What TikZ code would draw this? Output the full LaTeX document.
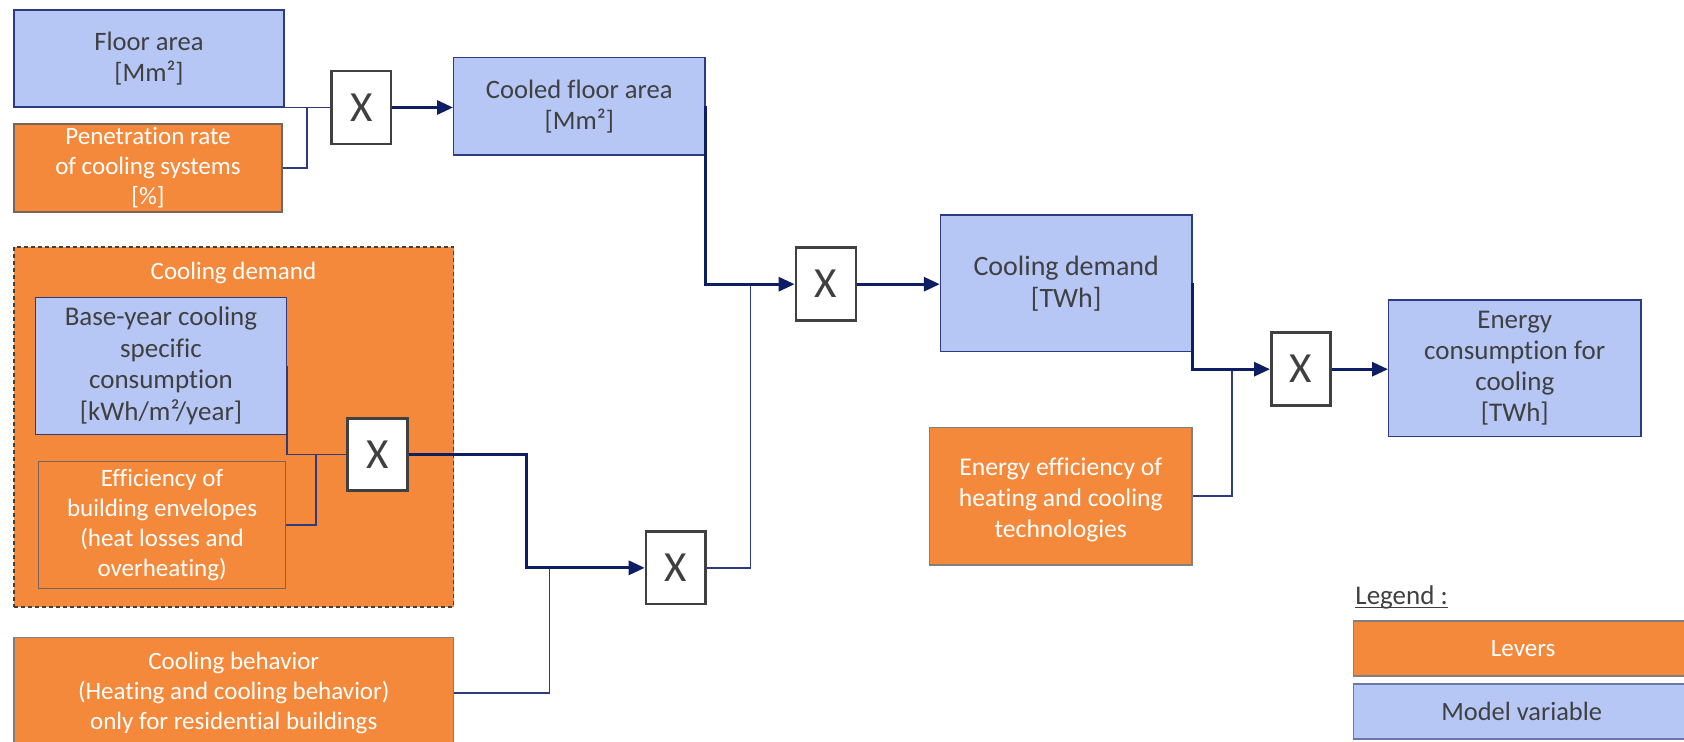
\documentclass[tikz,border=0pt]{standalone}
\usepackage{fontspec}
\setmainfont{Carlito}[Ligatures=NoCommon]
\usetikzlibrary{arrows.meta,fit,calc}
\definecolor{bluefill}{RGB}{182,198,245}
\definecolor{orangefill}{RGB}{245,137,59}
\definecolor{navy}{RGB}{14,30,100}
\definecolor{thinnavy}{RGB}{45,60,125}
\definecolor{txtgray}{RGB}{64,64,64}
\definecolor{blueborder}{RGB}{45,60,130}
\definecolor{orangeborder}{RGB}{120,100,90}
\begin{document}
\begin{tikzpicture}[x=0.5pt,y=-0.5pt,
  model/.style={draw=blueborder, line width=0.6pt, fill=bluefill, inner sep=0pt},
  lever/.style={draw=orangeborder, line width=0.6pt, fill=orangefill, inner sep=0pt},
  mult/.style={draw=txtgray, line width=1.3pt, fill=white, inner sep=0pt},
  mtext/.style={text=txtgray, align=center, inner sep=0pt},
  ltext/.style={text=white, align=center, inner sep=0pt},
  xtext/.style={text=txtgray, inner sep=0pt, font=\fontsize{21.5}{24}\selectfont},
  thinline/.style={draw=thinnavy, line width=0.7pt},
  thickarrow/.style={draw=navy, line width=1.5pt, -{Triangle[length=8pt,width=7pt]}},
  fa/.style={font=\fontsize{13.3}{15.5}\selectfont},
  fb/.style={font=\fontsize{12.5}{15}\selectfont},
  fc/.style={font=\fontsize{14}{16}\selectfont}]
\useasboundingbox (0,0) rectangle (1684,742);
\fill[white] (0,0) rectangle (1684,742);
% group
\node[draw=txtgray, dashed, dash pattern=on 2pt off 1.5pt, line width=0.8pt, fill=orangefill, inner sep=0pt, fit={(14,247) (453.6,606.7)}] (grp) {};
\node[ltext, fb] (grplabel) at (233.5,273) {Cooling demand};
% boxes
\node[model, fit={(14,10) (284,107)}] (floor) {};
\node[mtext, fa] (floort) at (floor.center) {Floor area\\{[Mm²]}};
\node[lever, fit={(14,124) (282,212)}] (pen) {};
\node[ltext, fb] (pent) at (pen.center) {Penetration rate\\of cooling systems\\{[\%]}};
\node[model, fit={(453.6,57.7) (705,155)}] (cooled) {};
\node[mtext, fa] (cooledt) at (cooled.center) {Cooled floor area\\{[Mm²]}};
\node[model, fit={(35.4,297.7) (286.5,434.3)}] (base) {};
\node[mtext, font=\fontsize{13.5}{15.8}\selectfont] (baset) at (base.center) {Base-year cooling\\specific\\consumption\\{[kWh/m²/year]}};
\node[lever, fit={(38.6,461.7) (285.6,588.3)}] (eff) {};
\node[ltext, fb] (efft) at (eff.center) {Efficiency of\\building envelopes\\(heat losses and\\overheating)};
\node[lever, draw=gray, fit={(14,637.7) (453.6,748)}] (beh) {};
\node[ltext, fb] (beht) at (beh.center) {Cooling behavior\\(Heating and cooling behavior)\\only for residential buildings};
\node[model, fit={(940.4,215) (1192,351.7)}] (cd) {};
\node[mtext, fc] (cdt) at (cd.center) {Cooling demand\\{[TWh]}};
\node[model, fit={(1388.6,300) (1640.9,436.7)}] (energy) {};
\node[mtext, font=\fontsize{13.5}{15.5}\selectfont] (energyt) at (energy.center) {Energy\\consumption for\\cooling\\{[TWh]}};
\node[lever, draw=gray, fit={(929.6,427.3) (1192,565)}] (ee) {};
\node[ltext, font=\fontsize{12.8}{15.5}\selectfont] (eet) at ([yshift=-2pt]ee.center) {Energy efficiency of\\heating and cooling\\technologies};
% multipliers
\node[mult, fit={(331.5,71) (391,144)}] (x1) {};
\node[xtext] (x1t) at (x1.center) {X};
\node[mult, fit={(347.6,418.3) (407.3,490.7)}] (x2) {};
\node[xtext] (x2t) at (x2.center) {X};
\node[mult, fit={(646,531.7) (705.7,604)}] (x3) {};
\node[xtext] (x3t) at (x3.center) {X};
\node[mult, fit={(795.9,247.7) (856,320.7)}] (x4) {};
\node[xtext] (x4t) at (x4.center) {X};
\node[mult, fit={(1271.3,332.7) (1330.3,405.7)}] (x5) {};
\node[xtext] (x5t) at (x5.center) {X};
% junctions
\coordinate (j1) at (307,107.5);
\coordinate (j2) at (316,454.5);
\coordinate (b1) at (526.6,454.5);
\coordinate (j4) at (549.6,567.8);
\coordinate (j5) at (750.2,284.2);
\coordinate (j6) at (1232,369.2);
% thin connectors
\draw[thinline] (floor.east) |- (x1.west);
\draw[thinline] (pen.east) -| (j1);
\draw[thinline] (base.east) |- (x2.west);
\draw[thinline] (eff.east) -| (j2);
\draw[thinline] (beh.east) -| (j4);
\draw[thinline] (x3.east) -| (j5);
\draw[thinline] (ee.east) -| (j6);
% thick connectors
\draw[thickarrow] (x1.east) -- (x1.east -| cooled.west);
\draw[thickarrow] (cooled.east) |- (x4.west);
\draw[thickarrow] (x4.east) -- (x4.east -| cd.west);
\draw[thickarrow] (x2.east) -- (b1) |- (x3.west);
\draw[thickarrow] (cd.east) |- (x5.west);
\draw[thickarrow] (x5.east) -- (x5.east -| energy.west);
% legend
\node[anchor=base west, text=txtgray, font=\fontsize{13.5}{16}\selectfont, inner sep=0pt] (legtitle) at (1355,604) {Legend :};
\draw[txtgray, line width=0.5pt] ([yshift=-1.5pt]legtitle.base west) -- ([yshift=-1.5pt]legtitle.base east);
\node[lever, draw=gray, fit={(1353.3,621) (1693,676)}] (levers) {};
\node[ltext, font=\fontsize{12.5}{15}\selectfont] (leverst) at (levers.center) {Levers};
\node[model, draw=blueborder!70, fit={(1353.3,684) (1690,739)}] (modelvar) {};
\node[mtext, font=\fontsize{13.2}{15}\selectfont] (modelvart) at (modelvar.center) {Model variable};
\end{tikzpicture}
\end{document}
